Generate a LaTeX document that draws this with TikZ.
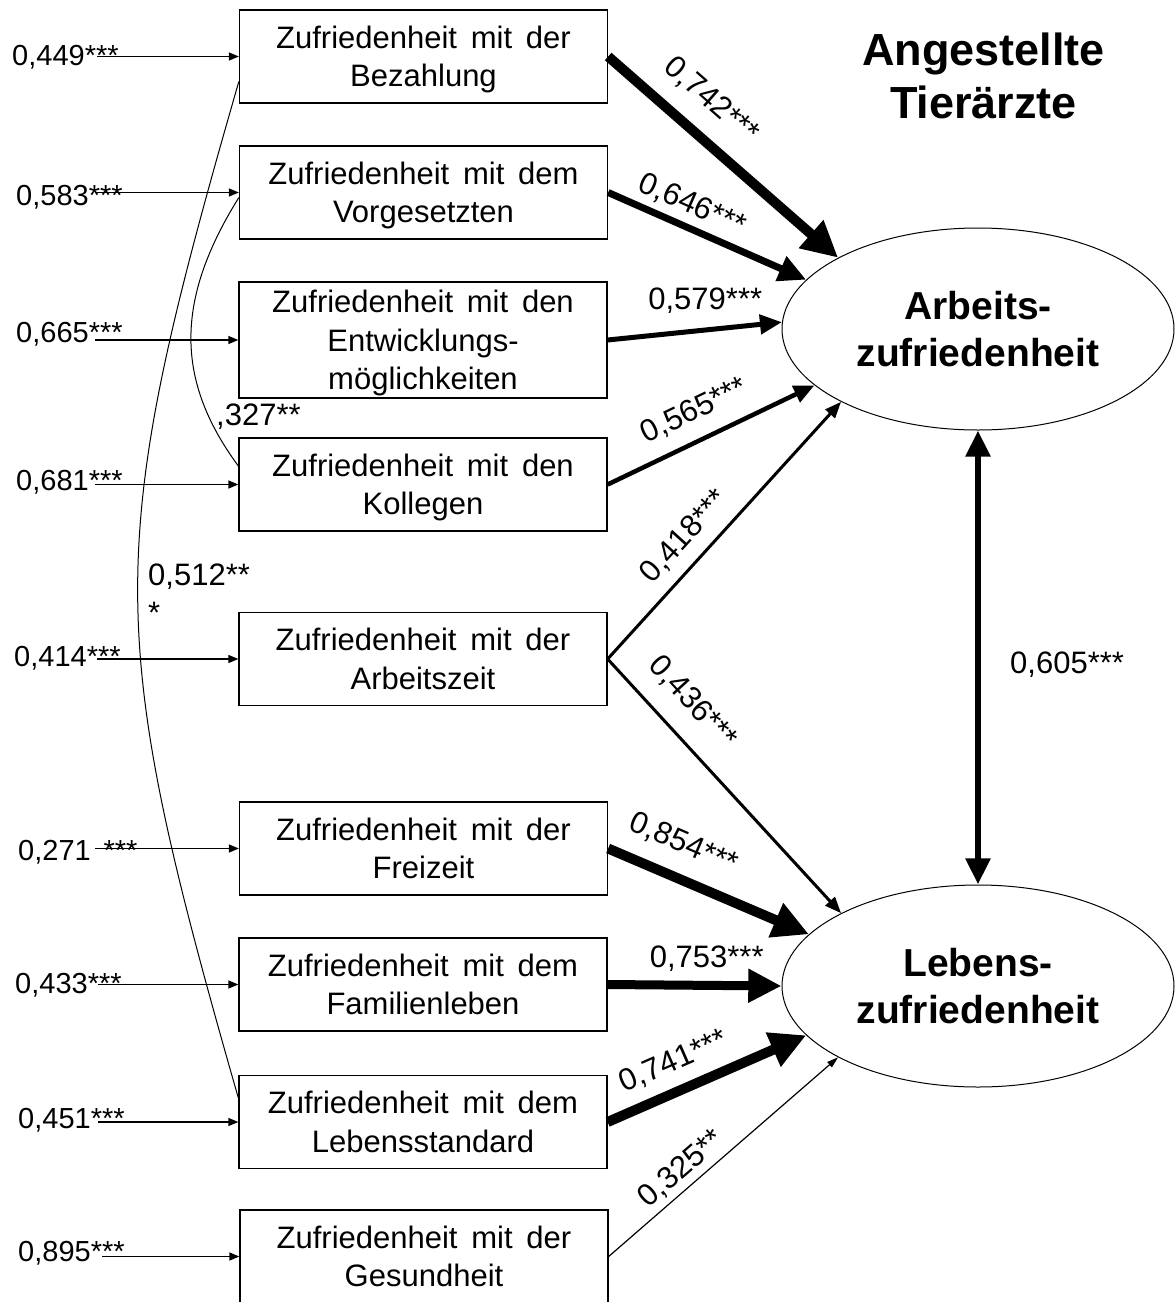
\documentclass[tikz,border=0pt]{standalone}
\usepackage{fontspec}
\setmainfont{Liberation Sans}[WordSpace=1.6]
\usetikzlibrary{arrows.meta,shapes.geometric}

\begin{document}
\begin{tikzpicture}[x=1pt,y=-1pt,
  box/.style={draw=black, line width=1.3pt, fill=white, minimum width=368pt,
    minimum height=93pt, inner sep=0pt, align=center, text depth=0pt,
    font=\fontsize{31}{38.5}\selectfont},
  latent/.style={draw, ellipse, line width=1pt, minimum width=392pt,
    minimum height=202pt, inner sep=0pt, align=center,
    font=\bfseries\fontsize{39}{47}\selectfont},
  err/.style={anchor=base west, inner sep=0pt, font=\fontsize{29}{34}\selectfont},
  errarrow/.style={line width=1.3pt, -{Triangle[length=10pt,width=8pt]}},
  pth/.style={line width=#1, -{Triangle[length=8pt 2.8, width=3pt 3.2]}},
  both/.style={line width=#1, {Triangle[length=8pt 2.8, width=3pt 3.2]}-{Triangle[length=8pt 2.8, width=3pt 3.2]}},
  coef/.style={sloped, inner sep=0pt, font=\fontsize{31}{36}\selectfont},
  lbl/.style={inner sep=0pt, font=\fontsize{31}{38}\selectfont},
  cov/.style={line width=1pt},
]
\useasboundingbox (0,0) rectangle (1176,1302);

% observed variables
\node[box] (b1) at (423.5,56.5)  {Zufriedenheit mit der\\Bezahlung};
\node[box] (b2) at (423.5,192.5) {Zufriedenheit mit dem\\Vorgesetzten};
\node[box, minimum height=116pt] (b3) at (423,340) {Zufriedenheit mit den\\Entwicklungs-\\möglichkeiten};
\node[box] (b4) at (423,484.5)   {Zufriedenheit mit den\\Kollegen};
\node[box] (b5) at (423,659)     {Zufriedenheit mit der\\Arbeitszeit};
\node[box] (b6) at (423.5,848.5) {Zufriedenheit mit der\\Freizeit};
\node[box] (b7) at (423,984.5)   {Zufriedenheit mit dem\\Familienleben};
\node[box] (b8) at (423,1122)    {Zufriedenheit mit dem\\Lebensstandard};
\node[box] (b9) at (424,1256.5)  {Zufriedenheit mit der\\Gesundheit};

% latent variables
\node[latent] (arb) at (978,329) {Arbeits-\\zufriedenheit};
\node[latent] (leb) at (978,986) {Lebens-\\zufriedenheit};

% title
\node[inner sep=0pt, align=center, font=\bfseries\fontsize{45}{53}\selectfont]
  (title) at (983.5,76) {Angestellte\\Tierärzte};

% residual terms
\node[err] (e1) at (12,65)   {0,449***};
\node[err] (e2) at (16,205)  {0,583***};
\node[err] (e3) at (16,342)  {0,665***};
\node[err] (e4) at (16,490)  {0,681***};
\node[err] (e5) at (14,666)  {0,414***};
\node[err] (e6) at (18,860)  {0,271 ***};
\node[err] (e7) at (15,993)  {0,433***};
\node[err] (e8) at (18,1128) {0,451***};
\node[err] (e9) at (18,1261) {0,895***};

\coordinate (s1) at (97,56.5);
\coordinate (s2) at (95,192.5);
\coordinate (s3) at (95,340);
\coordinate (s4) at (95,484.5);
\coordinate (s5) at (97,659);
\coordinate (s6) at (95,848.5);
\coordinate (s7) at (98,984.5);
\coordinate (s8) at (98,1122);
\coordinate (s9) at (102,1256.5);

\foreach \i in {1,...,9}
  \draw[errarrow] (s\i) -- (b\i.west);

% correlations between the residuals
\draw[cov] ([yshift=-25pt]b1.west) .. controls (104,549) and (104,629) .. ([yshift=24pt]b8.west);
\draw[cov] ([yshift=-5pt]b2.west) .. controls (175,300) and (175,380) .. ([yshift=18.5pt]b4.west);
\node[lbl, anchor=north west, align=left] (c1) at (148,564) {0,512**\\{}*};
\node[lbl, anchor=base west] (c2) at (216,425) {,327**};

% paths to Arbeitszufriedenheit
\draw[pth=10pt] (b1.east) -- (arb.153)
  node[coef, pos=0.35, above=17pt] {0,742***};
\draw[pth=7pt] (b2.east) -- (arb.164)
  node[coef, pos=0.38, above=6pt] {0,646***};
\draw[pth=5pt] (b3.east) -- (arb.178)
  node[lbl, pos=0.56, above=14pt] {0,579***};
\draw[pth=4.5pt] (b4.east) -- (arb.199)
  node[coef, pos=0.48, above=14pt] {0,565***};
\draw[pth=3pt] (b5.east) -- (arb.208)
  node[coef, pos=0.41, above=11pt] {0,418***};

% paths to Lebenszufriedenheit
\draw[pth=3pt] (b5.east) -- (leb.152)
  node[coef, pos=0.26, above=19pt] {0,436***};
\draw[pth=10pt] (b6.east) -- (leb.163)
  node[coef, pos=0.31, above=16pt] {0,854***};
\draw[pth=9pt] (b7.east) -- (leb.180)
  node[lbl, pos=0.57, above=9pt] {0,753***};
\draw[pth=10pt] (b8.east) -- (leb.196)
  node[coef, pos=0.39, above=11pt] {0,741***};
\draw[pth=1.2pt] (b9.east) -- (leb.207.5)
  node[coef, pos=0.37, above=5pt] {0,325**};

% correlation of the two latent variables
\draw[both=6.5pt] (arb.south) -- (leb.north);
\node[lbl, anchor=base west] (r) at (1010,673) {0,605***};
\end{tikzpicture}
\end{document}
